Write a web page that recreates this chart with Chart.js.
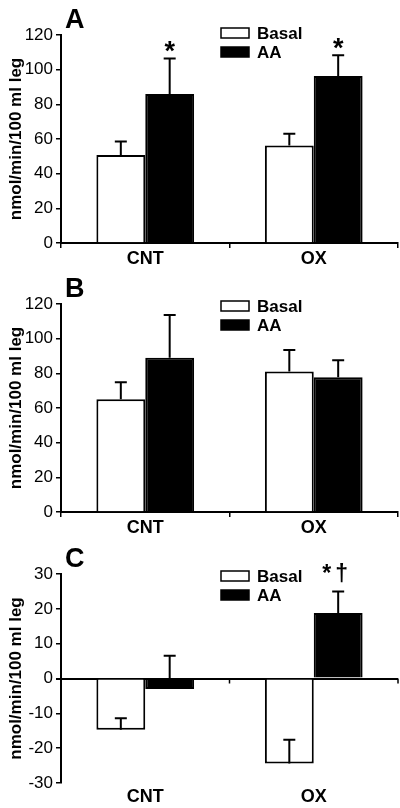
<!DOCTYPE html>
<html>
<head>
<meta charset="utf-8">
<script src="https://cdn.jsdelivr.net/npm/chart.js@4.4.1/dist/chart.umd.min.js"></script>
<style>
  body { margin: 0; background: #fff; }
  #wrap { position: relative; width: 400px; height: 808px; }
  canvas { position: absolute; left: 0; }
</style>
</head>
<body>
<div id="wrap">
  <canvas id="chartA" width="400" height="270" style="top:0px"></canvas>
  <canvas id="chartB" width="400" height="270" style="top:270px"></canvas>
  <canvas id="chartC" width="400" height="268" style="top:540px"></canvas>
</div>
<script>
const groups = ["CNT", "OX"];
const seriesNames = ["Basal", "AA"];
const yTitle = "nmol/min/100 ml leg";

// Panel A
const basalA = [50.8, 56.2];
const basalErrA = [7.7, 6.8];
const aaA = [86.0, 96.4];
const aaErrA = [20.5, 11.9];
const marksA = ["*", "*"];

// Panel B
const basalB = [65.0, 81.1];
const basalErrB = [9.8, 12.4];
const aaB = [89.0, 77.7];
const aaErrB = [24.7, 9.8];
const marksB = ["", ""];

// Panel C (error whiskers go up from the bar end)
const basalC = [-14.7, -24.4];
const basalErrC = [3.3, 6.8];
const aaC = [-3.0, 18.8];
const aaErrC = [9.5, 6.2];
const marksC = ["", "*†"];

const ticksAB = [0, 20, 40, 60, 80, 100, 120];
const ticksC = [-30, -20, -10, 0, 10, 20, 30];

const FONT = "'Liberation Sans', Arial, sans-serif";

// error bars, significance marks, legend and panel letter
const panelDeco = {
  id: "panelDeco",
  afterDatasetsDraw(chart, args, opts) {
    const ctx = chart.ctx;
    const xs = chart.scales.x, ys = chart.scales.y;
    const area = chart.chartArea;
    ctx.save();
    ctx.strokeStyle = "#000";
    ctx.fillStyle = "#000";

    // ticks on the zero line (panel C)
    if (opts.zeroAxis) {
      const y0 = ys.getPixelForValue(0);
      ctx.lineWidth = 1.5;
      const edges = [(xs.getPixelForValue(0) + xs.getPixelForValue(1)) / 2, area.right];
      edges.forEach(ex => {
        ctx.beginPath();
        ctx.moveTo(ex, y0);
        ctx.lineTo(ex, y0 + 5);
        ctx.stroke();
      });
    }

    // error bars
    ctx.lineWidth = 2;
    chart.data.datasets.forEach((ds, i) => {
      const meta = chart.getDatasetMeta(i);
      meta.data.forEach((bar, j) => {
        const v = ds.data[j], e = ds.errors[j];
        const yb = ys.getPixelForValue(v);
        const yt = ys.getPixelForValue(v + e);
        ctx.beginPath();
        ctx.moveTo(bar.x, yb);
        ctx.lineTo(bar.x, yt);
        ctx.moveTo(bar.x - 6, yt);
        ctx.lineTo(bar.x + 6, yt);
        ctx.stroke();

        const mark = ds.marks ? ds.marks[j] : "";
        if (mark) {
          ctx.font = "bold " + opts.markSize + "px " + FONT;
          ctx.textBaseline = "alphabetic";
          ctx.textAlign = "left";
          const chars = Array.from(mark);
          const gap = 4;
          const widths = chars.map(c => ctx.measureText(c).width);
          const total = widths.reduce((a, b) => a + b, 0) + gap * (chars.length - 1);
          let cx = bar.x - total / 2 + opts.markShift;
          chars.forEach((c, k) => {
            ctx.fillText(c, cx, yt - opts.markLift);
            cx += widths[k] + gap;
          });
        }
      });
    });

    // legend
    const lx = area.left + 160;
    const ly = area.top + opts.legendDy;
    ctx.font = "bold 17px " + FONT;
    ctx.textAlign = "left";
    ctx.textBaseline = "middle";
    chart.data.datasets.forEach((ds, i) => {
      const by = ly + i * 19;
      ctx.fillStyle = ds.backgroundColor;
      ctx.fillRect(lx, by, 28, 10);
      ctx.lineWidth = 1.5;
      ctx.strokeStyle = "#000";
      ctx.strokeRect(lx, by, 28, 10);
      ctx.fillStyle = "#000";
      ctx.fillText(ds.label, lx + 36, by + 6);
    });

    // panel letter
    ctx.font = "bold 27px " + FONT;
    ctx.textBaseline = "alphabetic";
    ctx.fillText(opts.letter, area.left + 4, area.top - 7);
    ctx.restore();
  }
};

function makeChart(id, basal, basalErr, aa, aaErr, marks, yTicks, p) {
  const canvas = document.getElementById(id);
  const H = canvas.height;
  const zero = p.zeroAxis;
  return new Chart(canvas.getContext("2d"), {
    type: "bar",
    data: {
      labels: groups,
      datasets: [
        {
          label: seriesNames[0],
          data: basal,
          errors: basalErr,
          backgroundColor: "#ffffff",
          borderColor: "#000000",
          borderWidth: 2,
          borderSkipped: "start"
        },
        {
          label: seriesNames[1],
          data: aa,
          errors: aaErr,
          marks: marks,
          backgroundColor: "#000000",
          borderColor: "#000000",
          borderWidth: 2,
          borderSkipped: "start"
        }
      ]
    },
    options: {
      responsive: false,
      animation: false,
      devicePixelRatio: 1,
      barPercentage: 1,
      categoryPercentage: 0.58,
      layout: { padding: { top: p.top, right: 2, left: 0, bottom: 0 } },
      plugins: {
        legend: { display: false },
        tooltip: { enabled: false },
        panelDeco: p
      },
      scales: {
        x: {
          type: "category",
          offset: true,
          afterFit: s => { s.height = H - p.bottom; },
          grid: {
            display: !zero,
            drawTicks: !zero,
            offset: true,
            drawOnChartArea: false,
            tickLength: 5,
            color: "#000",
            lineWidth: 1.5
          },
          border: { display: !zero, color: "#000", width: 2 },
          ticks: {
            color: "#000",
            padding: zero ? 3 : 0,
            font: { family: FONT, size: 18, weight: "bold" }
          }
        },
        y: {
          min: yTicks[0],
          max: yTicks[yTicks.length - 1],
          afterFit: s => { s.width = 61; },
          grid: {
            drawOnChartArea: zero,
            tickLength: 5,
            color: c => (zero && c.tick && c.tick.value === 0) ? "#000" : "rgba(0,0,0,0)",
            tickColor: "#000",
            lineWidth: c => (c.tick && c.tick.value === 0 && zero) ? 2 : 1.5
          },
          border: { color: "#000", width: 2 },
          ticks: {
            stepSize: yTicks[1] - yTicks[0],
            color: "#000",
            padding: 3,
            font: { family: FONT, size: 17 }
          },
          title: {
            display: true,
            text: yTitle,
            color: "#000",
            padding: { top: 6, bottom: 0 },
            font: { family: FONT, size: 17, weight: "bold" }
          }
        }
      }
    },
    plugins: [panelDeco]
  });
}

makeChart("chartA", basalA, basalErrA, aaA, aaErrA, marksA, ticksAB,
  { letter: "A", top: 35, bottom: 243, legendDy: -7, markSize: 27, markLift: -2, markShift: 0 });
makeChart("chartB", basalB, basalErrB, aaB, aaErrB, marksB, ticksAB,
  { letter: "B", top: 34, bottom: 242, legendDy: -3, markSize: 27, markLift: -2, markShift: 0 });
makeChart("chartC", basalC, basalErrC, aaC, aaErrC, marksC, ticksC,
  { letter: "C", top: 34, bottom: 243, legendDy: -3, markSize: 23, markLift: 10, markShift: -3, zeroAxis: true });
</script>
</body>
</html>
